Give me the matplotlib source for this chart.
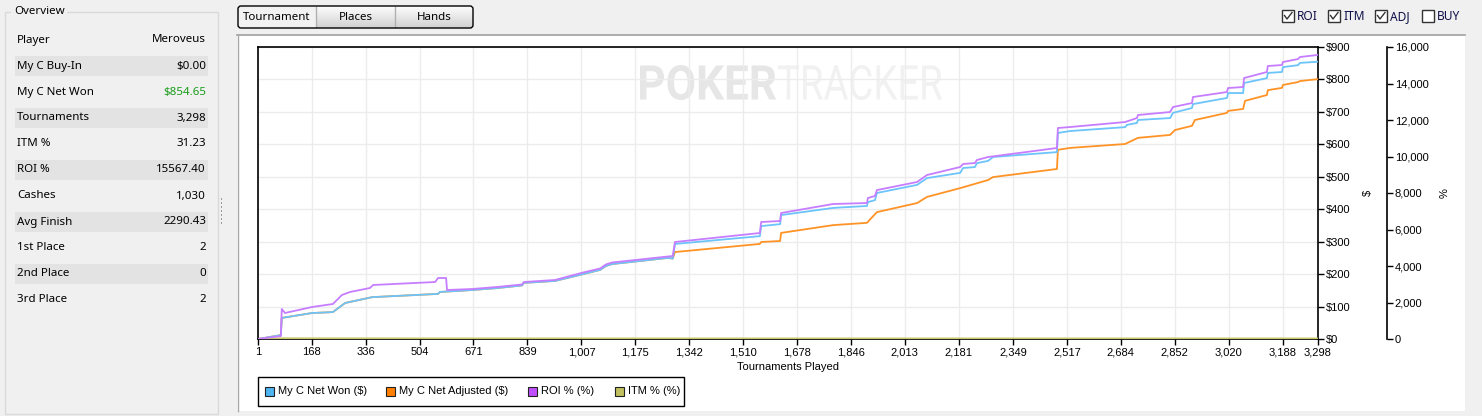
import numpy as np
import matplotlib
matplotlib.use("Agg")
import matplotlib.pyplot as plt
from matplotlib.patches import Rectangle, FancyBboxPatch, PathPatch
from matplotlib.textpath import TextPath
from matplotlib.font_manager import FontProperties
from matplotlib.transforms import Affine2D
from matplotlib.ticker import FuncFormatter

# ---- data ----
# My C Net Won ($)
won_t = [1, 72, 75, 169, 234, 272, 356, 561, 567, 667, 744, 822, 828, 925, 1012,
         1065, 1074, 1083, 1102, 1276, 1291, 1298, 1562, 1566, 1625, 1628, 1790,
         1895, 1898, 1920, 1926, 2051, 2082, 2185, 2194, 2231, 2237, 2272, 2287,
         2486, 2489, 2527, 2698, 2704, 2735, 2738, 2838, 2847, 2906, 2909, 3015,
         3018, 3065, 3068, 3139, 3142, 3186, 3189, 3236, 3242, 3298]
won_v = [0, 12, 65, 80, 83, 111, 129, 139, 145, 151, 157, 165, 173, 179, 200,
         213, 219, 225, 231, 250, 248, 293, 317, 348, 354, 382, 404,
         410, 422, 428, 450, 475, 496, 512, 527, 530, 542, 549, 561,
         576, 635, 641, 653, 660, 666, 675, 681, 697, 712, 724, 743,
         758, 758, 789, 804, 820, 823, 838, 844, 851, 854.65]

# My C Net Adjusted ($) - same as net won until ~1,292
adj_t = [1, 72, 75, 169, 234, 272, 356, 561, 567, 667, 744, 822, 828, 925, 1012,
         1065, 1074, 1083, 1102, 1276, 1291, 1298, 1562, 1566, 1625, 1628, 1790,
         1895, 1926, 2051, 2082, 2185, 2272, 2287, 2486, 2489, 2527, 2698, 2738,
         2838, 2853, 2906, 2915, 3015, 3018, 3065, 3071, 3139, 3142, 3186, 3189,
         3236, 3242, 3298]
adj_v = [0, 12, 65, 80, 83, 111, 129, 139, 145, 151, 157, 165, 173, 179, 200,
         213, 219, 225, 231, 250, 248, 268, 293, 299, 302, 327, 351,
         358, 391, 419, 438, 465, 490, 499, 524, 583, 589, 601, 620,
         629, 644, 657, 675, 697, 703, 709, 734, 752, 767, 774, 783,
         792, 795, 801]

# ROI % (%)
roi_t = [1, 72, 75, 85, 169, 234, 262, 287, 349, 359, 552, 561, 586, 589, 667,
         744, 822, 828, 925, 1012, 1065, 1083, 1102, 1276, 1291, 1298, 1562, 1566,
         1625, 1628, 1790, 1895, 1898, 1920, 1926, 2051, 2082, 2185, 2194, 2231,
         2237, 2272, 2486, 2489, 2527, 2698, 2735, 2738, 2838, 2847, 2906, 2909,
         3015, 3018, 3065, 3068, 3139, 3142, 3186, 3189, 3236, 3242, 3298]
roi_v = [0, 160, 1644, 1425, 1753, 1918, 2411, 2575, 2794, 2959, 3123, 3342, 3342, 2685, 2740,
         2849, 2986, 3123, 3233, 3643, 3863, 4082, 4191, 4520, 4548, 5315, 5808, 6410,
         6465, 6904, 7397, 7451, 7725, 7835, 8160, 8602, 8986, 9424, 9588, 9643,
         9807, 9972, 10465, 11561, 11615, 11889, 12108, 12273, 12437, 12711, 12930, 13259,
         13533, 13752, 13807, 14300, 14629, 14958, 15012, 15177, 15341, 15451, 15567.40]

# ITM % (%)
itm_t = [1, 20, 75, 500, 1500, 3298]
itm_v = [0, 20, 40, 33, 31, 31.23]

x_ticks = [1, 168, 336, 504, 671, 839, 1007, 1175, 1342, 1510, 1678, 1846, 2013,
           2181, 2349, 2517, 2684, 2852, 3020, 3188, 3298]

overview_rows = [("Player", "Meroveus"), ("My C Buy-In", "$0.00"),
                 ("My C Net Won", "$854.65"), ("Tournaments", "3,298"),
                 ("ITM %", "31.23"), ("ROI %", "15567.40"), ("Cashes", "1,030"),
                 ("Avg Finish", "2290.43"), ("1st Place", "2"), ("2nd Place", "0"),
                 ("3rd Place", "2")]

legend_labels = ["My C Net Won ($)", "My C Net Adjusted ($)", "ROI % (%)", "ITM % (%)"]
line_colors = ["#6cc4fa", "#ff9326", "#c77dff", "#c8c86a"]
legend_colors = ["#4db5f0", "#ff8000", "#c050ff", "#c0c060"]

W, H = 1482, 416
UI = "Noto Sans"
CH = "Liberation Sans"

fig = plt.figure(figsize=(W / 100, H / 100), dpi=100)
fig.patch.set_facecolor("#f0f0f0")

# overlay in pixel coords for the window furniture
bg = fig.add_axes([0, 0, 1, 1], zorder=-5)
bg.set_xlim(0, W)
bg.set_ylim(H, 0)
bg.axis("off")

# overview group box
bg.add_patch(Rectangle((5, 12), 213, 402, fill=False, ec="#d9d9d9", lw=1))
bg.add_patch(Rectangle((11, 4), 56, 14, fc="#f0f0f0", ec="none"))
bg.text(14, 12, "Overview", family=UI, fontsize=8.3, va="center", ha="left")
for i, (lab, val) in enumerate(overview_rows):
    y = 40 + 26 * i
    if i % 2 == 1:
        bg.add_patch(Rectangle((15, y - 10), 193, 20, fc="#e3e3e3", ec="none"))
    bg.text(17, y, lab, family=UI, fontsize=8.3, va="center")
    bg.text(206, y, val, family=UI, fontsize=8.3, va="center", ha="right",
            color="#1a9c1a" if lab == "My C Net Won" else "black")
# splitter grip
for y in range(198, 226, 4):
    bg.add_patch(Rectangle((220.5, y), 1.2, 1.5, fc="#9a9a9a", ec="none"))

# tab buttons
grad = np.linspace(0.99, 0.82, 30).reshape(-1, 1)
bg.imshow(grad, cmap="gray", vmin=0, vmax=1, extent=(316, 473, 28, 6),
          aspect="auto", zorder=1)
bg.add_patch(Rectangle((238, 6), 78, 22, fc="#f2f2f2", ec="none", zorder=1))
bg.add_patch(FancyBboxPatch((238, 6), 235, 22, boxstyle="round,pad=0,rounding_size=3",
                            fill=False, ec="black", lw=1, zorder=3))
for xs in (316, 395):
    bg.plot([xs, xs], [7, 27], color="#b0b0b0", lw=1, zorder=2)
for cx, lab in ((277, "Tournament"), (355.5, "Places"), (434, "Hands")):
    bg.text(cx, 17, lab, family=UI, fontsize=8.3, ha="center", va="center", zorder=4)

# check boxes
for bx, lab, on in ((1282, "ROI", True), (1328, "ITM", True), (1375, "ADJ", True),
                    (1422, "BUY", False)):
    bg.add_patch(Rectangle((bx, 10), 12, 12, fc="white", ec="#333333", lw=1))
    if on:
        bg.plot([bx + 2.5, bx + 5, bx + 10], [15.5, 19, 12.5], color="#333333", lw=1)
    bg.text(bx + 15, 16.5, lab, family=UI, fontsize=8.6, va="center", color="#10104a")

# white chart panel
bg.add_patch(Rectangle((237, 35), 1228, 376, fc="white", ec="none"))
bg.plot([237, 1465], [34.5, 34.5], color="#a0a0a0", lw=1.2)
bg.plot([237.5, 237.5], [34.5, 411], color="#a8a8a8", lw=1)

# watermark
def word(txt, weight, box, color):
    tp = TextPath((0, 0), txt, size=1, prop=FontProperties(family="Roboto", weight=weight))
    ext = tp.get_extents()
    x0, y0, x1, y1 = box
    tr = (Affine2D().translate(-ext.x0, -ext.y0)
          .scale((x1 - x0) / ext.width, -(y1 - y0) / ext.height)
          .translate(x0, y1))
    bg.add_patch(PathPatch(tr.transform_path(tp), fc=color, ec="none", zorder=2))

word("POKER", "bold", (640, 65, 776, 100), "#e6e6e6")
word("TRACKER", "normal", (778, 65, 942, 100), "#f1f1f1")

# legend
bg.add_patch(Rectangle((258, 377), 426, 29, fill=False, ec="black", lw=1))
for lx, lab, c in zip((265, 386, 528, 615), legend_labels, legend_colors):
    bg.add_patch(Rectangle((lx, 386.5), 9, 9, fc=c, ec="#222222", lw=0.8))
    bg.text(lx + 13, 391.5, lab, family=CH, fontsize=8, va="center")

# ---- the chart ----
L, R, T, B = 258, 1318, 47, 339
ax = fig.add_axes([L / W, 1 - B / H, (R - L) / W, (B - T) / H])
ax.patch.set_alpha(0)
ax2 = ax.twinx()

ax.plot(adj_t, adj_v, color=line_colors[1], lw=1.3, zorder=3)
ax.plot(won_t, won_v, color=line_colors[0], lw=1.3, zorder=4)
ax.set_xlim(1, 3298)
ax.set_ylim(0, 900)
ax.set_xticks(x_ticks)
ax.xaxis.set_major_formatter(FuncFormatter(lambda v, p: f"{int(round(v)):,}"))
ax.set_yticks(range(0, 901, 100))
ax.yaxis.set_major_formatter(FuncFormatter(lambda v, p: f"${int(v)}"))
ax.yaxis.tick_right()
ax.yaxis.set_label_position("right")
ax.grid(True, color="#ececec", lw=1)
ax.set_axisbelow(True)
for s in ax.spines.values():
    s.set_color("black")
    s.set_linewidth(1.2)
ax.tick_params(axis="both", length=4, width=1, pad=2, labelsize=8,
               labelfontfamily=CH)
ax.set_xlabel("Tournaments Played", family=CH, fontsize=8, labelpad=3)
ax.set_ylabel("$", family=CH, fontsize=8, rotation=90)
ax.yaxis.set_label_coords((1363 - L) / (R - L), 0.5)

ax2.plot(itm_t, itm_v, color=line_colors[3], lw=1.3, zorder=2)
ax2.plot(roi_t, roi_v, color=line_colors[2], lw=1.3, zorder=5)
ax2.set_ylim(0, 16000)
ax2.set_yticks(range(0, 16001, 2000))
ax2.yaxis.set_major_formatter(FuncFormatter(lambda v, p: f"{int(v):,}"))
for k in ("left", "top", "bottom"):
    ax2.spines[k].set_visible(False)
ax2.spines["right"].set_position(("axes", (1386.5 - L) / (R - L)))
ax2.spines["right"].set_linewidth(1.2)
ax2.tick_params(axis="y", length=4, width=1, pad=2, labelsize=8, labelfontfamily=CH)
ax2.set_ylabel("%", family=CH, fontsize=8, rotation=90)
ax2.yaxis.set_label_coords((1440 - L) / (R - L), 0.5)

fig.savefig("out.png", dpi=100, facecolor=fig.get_facecolor())
